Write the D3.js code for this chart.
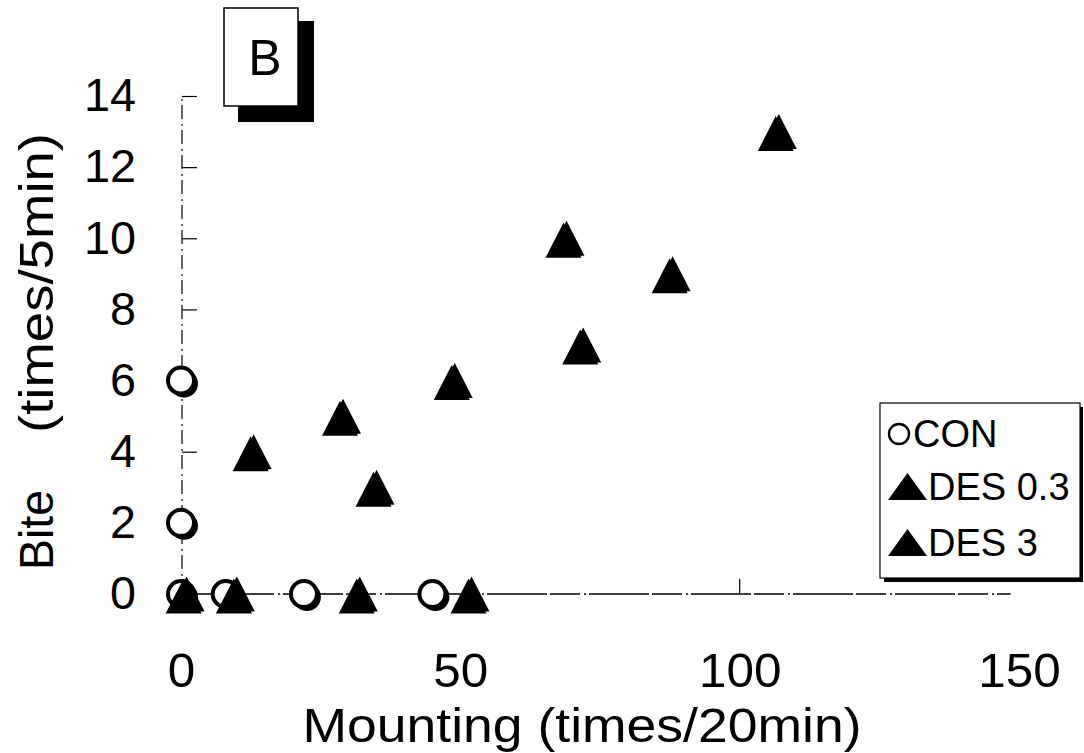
<!DOCTYPE html>
<html><head><meta charset="utf-8">
<script src="https://cdn.jsdelivr.net/npm/d3@7"></script>
<style>body{margin:0;background:#fff}svg{display:block}</style>
</head><body>
<script>
// ---- data ----
const conX = [0, 0, 0, 8, 22, 45];
const conY = [6, 2, 0, 0, 0, 0];
const des03X = [1, 10, 32, 13, 35, 29];
const des03Y = [0, 0, 0, 4, 3, 5];
const des3X = [52, 49, 72, 69, 88, 107];
const des3Y = [0, 6, 7, 10, 9, 13];
const xTicks = [0, 50, 100, 150];
const yTicks = [0, 2, 4, 6, 8, 10, 12, 14];
const legendLabels = ["CON", "DES 0.3", "DES 3"];
const panelLabel = "B";

const W = 1084, H = 753;
const FONT = "Liberation Sans";
const svg = d3.select("body").append("svg").attr("width", W).attr("height", H);
const x = d3.scaleLinear().domain([0, 150]).range([181, 1019]);
const y = d3.scaleLinear().domain([0, 14]).range([594, 96]);

// y axis line (broken, scanned look)
svg.append("line").attr("x1", x(0) + 1).attr("x2", x(0) + 1).attr("y1", y(0)).attr("y2", y(14))
  .attr("stroke", "#000").attr("stroke-width", 1.2).attr("stroke-dasharray", "14,4,2,5");
// x axis line
svg.append("line").attr("x1", x(0)).attr("x2", x(148.5)).attr("y1", y(0)).attr("y2", y(0))
  .attr("stroke", "#000").attr("stroke-width", 1.5).attr("stroke-dasharray", "60,3,30,4,2,3");

// y axis ticks & labels
const yAxis = d3.axisLeft(y).tickValues(yTicks).tickSize(-15).tickPadding(46).tickFormat(d3.format("d"));
const gy = svg.append("g").attr("transform", `translate(${x(0) + 1},0)`).call(yAxis);
gy.select(".domain").remove();
gy.selectAll(".tick line").attr("stroke-width", 1.2);
gy.selectAll(".tick text").attr("font-family", FONT).attr("font-size", 46).attr("fill", "#000")
  .attr("textLength", d => String(d).length * 26).attr("lengthAdjust", "spacingAndGlyphs");

// x axis labels
const xAxis = d3.axisBottom(x).tickValues(xTicks).tickSize(0).tickPadding(58);
const gx = svg.append("g").attr("transform", `translate(0,${y(0)})`).call(xAxis);
gx.select(".domain").remove();
gx.selectAll(".tick text").attr("font-family", FONT).attr("font-size", 49).attr("fill", "#000")
  .attr("textLength", d => String(d).length * 27.5).attr("lengthAdjust", "spacingAndGlyphs");
// small tick at 100
svg.append("line").attr("x1", x(100)).attr("x2", x(100)).attr("y1", y(0) - 15).attr("y2", y(0))
  .attr("stroke", "#000").attr("stroke-width", 1.2);

// axis titles
svg.append("text").attr("x", 582).attr("y", 742).attr("text-anchor", "middle")
  .attr("font-family", FONT).attr("font-size", 49)
  .attr("textLength", 559).attr("lengthAdjust", "spacingAndGlyphs")
  .text("Mounting (times/20min)");
svg.append("text").attr("transform", "translate(53,530) rotate(-90)").attr("text-anchor", "middle")
  .attr("font-family", FONT).attr("font-size", 48)
  .attr("textLength", 80).attr("lengthAdjust", "spacingAndGlyphs").text("Bite");
svg.append("text").attr("transform", "translate(53,283) rotate(-90)").attr("text-anchor", "middle")
  .attr("font-family", FONT).attr("font-size", 48)
  .attr("textLength", 300).attr("lengthAdjust", "spacingAndGlyphs").text("(times/5min)");

// markers
const triW = 36, triH = 35;
const triPath = `M0,${-triH / 2}L${triW / 2},${triH / 2}L${-triW / 2},${triH / 2}Z`;
function drawTriangles(xs, ys) {
  const pts = xs.map((v, i) => [v, ys[i]]);
  const g = svg.append("g");
  g.selectAll("path.s").data(pts).join("path").attr("class", "s").attr("d", triPath)
    .attr("transform", d => `translate(${x(d[0]) - 3},${y(d[1]) + 2})`).attr("fill", "#000");
  g.selectAll("path.m").data(pts).join("path").attr("class", "m").attr("d", triPath)
    .attr("transform", d => `translate(${x(d[0])},${y(d[1])})`).attr("fill", "#000");
}
function drawCircles(xs, ys) {
  const pts = xs.map((v, i) => [v, ys[i]]);
  const g = svg.append("g");
  g.selectAll("circle.s").data(pts).join("circle").attr("class", "s")
    .attr("cx", d => x(d[0]) + 3).attr("cy", d => y(d[1]) + 3).attr("r", 14).attr("fill", "#000");
  g.selectAll("circle.m").data(pts).join("circle").attr("class", "m")
    .attr("cx", d => x(d[0])).attr("cy", d => y(d[1])).attr("r", 13)
    .attr("fill", "#fff").attr("stroke", "#000").attr("stroke-width", 4);
}
drawCircles(conX, conY);
drawTriangles(des03X, des03Y);
drawTriangles(des3X, des3Y);

// legend
const lg = svg.append("g");
lg.append("rect").attr("x", 884).attr("y", 407).attr("width", 199).attr("height", 175).attr("fill", "#000");
lg.append("rect").attr("x", 880).attr("y", 403).attr("width", 200).attr("height", 175)
  .attr("fill", "#fff").attr("stroke", "#000").attr("stroke-width", 1.2);
const rowsBase = [447, 500, 556];
lg.append("circle").attr("cx", 899).attr("cy", rowsBase[0] - 13).attr("r", 10)
  .attr("fill", "#fff").attr("stroke", "#000").attr("stroke-width", 2.4);
[1, 2].forEach(i => {
  const b = rowsBase[i], cx = 907.5;
  lg.append("path").attr("d", `M${cx - 19.5},${b}L${cx + 19.5},${b}L${cx},${b - 27}Z`).attr("fill", "#000");
});
legendLabels.forEach((t, i) => {
  lg.append("text").attr("x", i === 0 ? 913 : 928).attr("y", rowsBase[i])
    .attr("font-family", FONT).attr("font-size", 38).attr("fill", "#000").text(t);
});

// panel label box
const pb = svg.append("g");
pb.append("rect").attr("x", 238).attr("y", 21).attr("width", 76).attr("height", 101).attr("fill", "#000");
pb.append("rect").attr("x", 224).attr("y", 8).attr("width", 74).attr("height", 98)
  .attr("fill", "#fff").attr("stroke", "#000").attr("stroke-width", 1.5);
pb.append("text").attr("x", 265).attr("y", 75).attr("text-anchor", "middle")
  .attr("font-family", FONT).attr("font-size", 50).text(panelLabel);
</script>
</body></html>
